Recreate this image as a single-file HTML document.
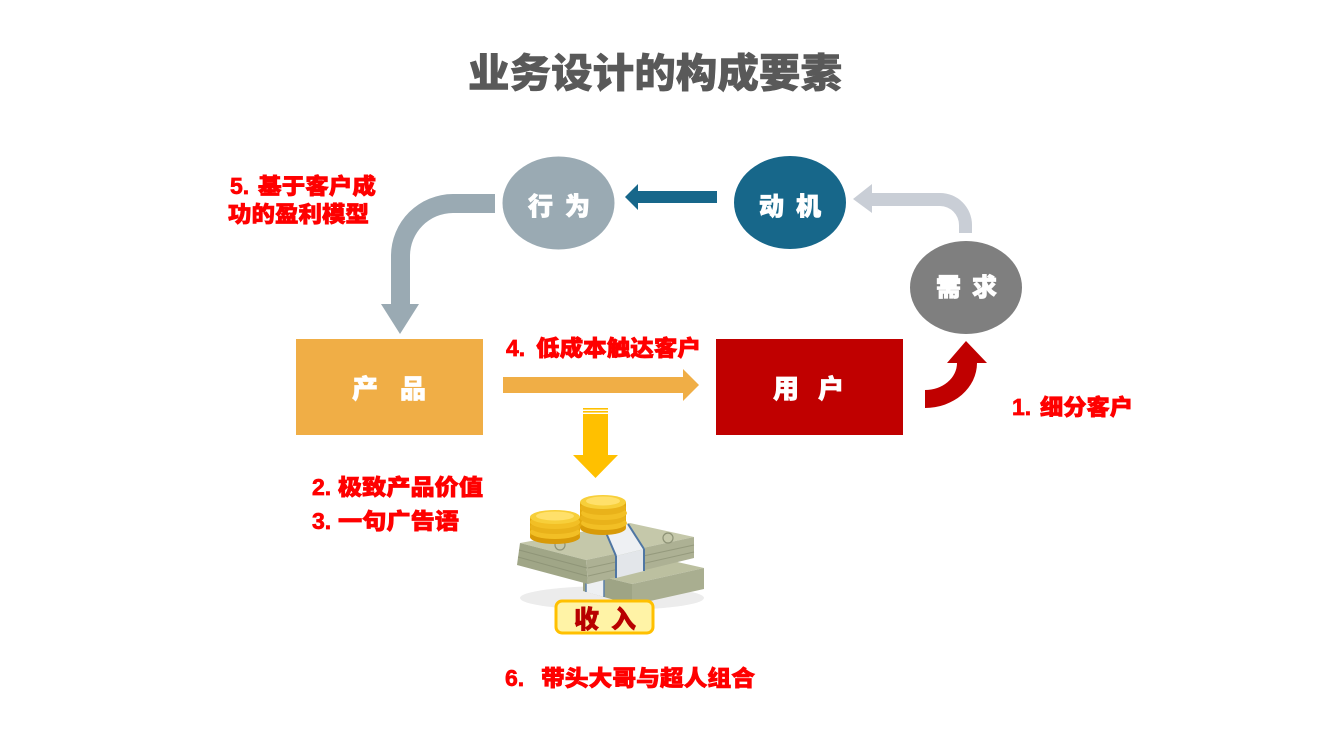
<!DOCTYPE html>
<html><head><meta charset="utf-8">
<style>
html,body{margin:0;padding:0;background:#fff;}
svg{display:block;}
.cj{font-family:"Liberation Sans","Noto Sans CJK SC",sans-serif;font-weight:900;}
.num{font-family:"Liberation Sans",sans-serif;font-weight:700;}
</style></head><body>
<svg width="1320" height="755" viewBox="0 0 1320 755" xmlns="http://www.w3.org/2000/svg">
<rect width="1320" height="755" fill="#fff"/>

<!-- Title -->
<text x="468" y="87" font-size="40" fill="#595959" stroke="#595959" stroke-width="0.6" class="cj" textLength="374" lengthAdjust="spacingAndGlyphs">业务设计的构成要素</text>

<!-- Big gray curved arrow 行为 -> 产品 -->
<path d="M495,194 L453,194 A62,62 0 0 0 391,256 L391,304 L381,304 L400,334 L419,304 L410,304 L410,256 A43,43 0 0 1 453,213 L495,213 Z" fill="#9aaab3"/>

<!-- Light gray arrow 需求 -> 动机 -->
<path d="M959,233 L959,225 A19,19 0 0 0 940,206 L872,206 L872,213 L853,199 L872,184 L872,193 L940,193 A32,32 0 0 1 972,225 L972,233 Z" fill="#c9ced6"/>

<!-- Dark blue arrow 动机 -> 行为 -->
<polygon points="717,191 638,191 638,184 625,197 638,210 638,203 717,203" fill="#17678a"/>

<!-- Ellipses -->
<ellipse cx="558.5" cy="203" rx="56" ry="46.5" fill="#9aaab3"/>
<ellipse cx="790" cy="202.5" rx="56" ry="46.5" fill="#17678a"/>
<ellipse cx="966" cy="287.5" rx="56" ry="46.5" fill="#7f7f7f"/>

<g fill="#fff" stroke="#fff" stroke-width="0.8">
<text x="528" y="215" font-size="25" class="cj">行</text>
<text x="565" y="215" font-size="25" class="cj">为</text>
<text x="759" y="215" font-size="25" class="cj">动</text>
<text x="796" y="215" font-size="25" class="cj">机</text>
<text x="936" y="296" font-size="25" class="cj">需</text>
<text x="972" y="296" font-size="25" class="cj">求</text>
</g>

<!-- Boxes -->
<rect x="296" y="339" width="187" height="96" fill="#f0ae46"/>
<rect x="716" y="339" width="187" height="96" fill="#c00000"/>
<g fill="#fff" stroke="#fff" stroke-width="0.7">
<text x="352" y="398" font-size="26" class="cj">产</text>
<text x="400" y="398" font-size="26" class="cj">品</text>
<text x="773" y="398" font-size="26" class="cj">用</text>
<text x="818" y="398" font-size="26" class="cj">户</text>
</g>

<!-- Orange arrow -->
<polygon points="503,377 683,377 683,369 699,385 683,401 683,393 503,393" fill="#f0ae46"/>

<!-- Red curved arrow -->
<path d="M925,408 A52,45 0 0 0 977,363 L987,363 L966,341 L947,363 L957,363 A32,27 0 0 1 925,390 Z" fill="#c00000"/>

<!-- Yellow down arrow -->
<rect x="583" y="408" width="25" height="1.6" fill="#ffc000"/>
<rect x="583" y="411" width="25" height="1.6" fill="#ffc000"/>
<rect x="583" y="414" width="25" height="42" fill="#ffc000"/>
<polygon points="573,455 618,455 595.5,478" fill="#ffc000"/>

<!-- Money illustration -->
<ellipse cx="612" cy="598" rx="92" ry="12" fill="#ececec"/>
<!-- lower stack -->
<polygon points="583,572 655,557 704,568 632,584" fill="#bcc0a0"/>
<polygon points="583,572 632,584 632,605 583,591" fill="#9ea485"/>
<polygon points="632,584 704,568 704,589 632,605" fill="#a9ae90"/>
<polygon points="586,573 604,569 604,597 586,592" fill="#eef0f2"/>
<line x1="586" y1="574" x2="586" y2="592" stroke="#5a7fa8" stroke-width="1.5"/>
<line x1="604" y1="570" x2="604" y2="597" stroke="#5a7fa8" stroke-width="1.5"/>
<!-- upper stack -->
<polygon points="520,543 630,523 694,537 586,560" fill="#c5c8aa"/>
<polygon points="520,543 586,560 588,584 517,565" fill="#a0a687"/>
<polygon points="586,560 694,537 694,558 588,584" fill="#adb194"/>
<line x1="519" y1="550" x2="587" y2="568" stroke="#8f9578" stroke-width="1"/>
<line x1="518" y1="557" x2="587" y2="576" stroke="#8f9578" stroke-width="1"/>
<line x1="588" y1="568" x2="694" y2="545" stroke="#959a7d" stroke-width="1"/>
<line x1="588" y1="576" x2="694" y2="552" stroke="#959a7d" stroke-width="1"/>
<!-- band -->
<polygon points="604,528 628,524 644,549 616,556" fill="#eef0f3"/>
<polygon points="616,556 644,549 644,571 616,578" fill="#e3e6ea"/>
<line x1="604" y1="528" x2="616" y2="556" stroke="#4f76a3" stroke-width="2"/>
<line x1="616" y1="556" x2="616" y2="578" stroke="#4f76a3" stroke-width="2"/>
<line x1="628" y1="524" x2="644" y2="549" stroke="#4f76a3" stroke-width="2"/>
<line x1="644" y1="549" x2="644" y2="571" stroke="#4f76a3" stroke-width="2"/>
<circle cx="560" cy="545" r="5" fill="none" stroke="#8d9276" stroke-width="1.2"/>
<circle cx="668" cy="538" r="5" fill="none" stroke="#8d9276" stroke-width="1.2"/>

<!-- coins left stack -->
<g>
<rect x="530" y="517" width="50" height="20" fill="#e3a90e"/>
<ellipse cx="555" cy="537" rx="25" ry="7" fill="#d89a08"/>
<ellipse cx="555" cy="532" rx="25" ry="7" fill="#f2bf25"/>
<ellipse cx="555" cy="527" rx="25" ry="7" fill="#e9b21a"/>
<ellipse cx="555" cy="522" rx="25" ry="7" fill="#f2bf25"/>
<ellipse cx="555" cy="517" rx="25" ry="7" fill="#f7cf3a"/>
<ellipse cx="555" cy="516" rx="19" ry="4.5" fill="#ffe06a"/>
</g>
<!-- coins right stack -->
<g>
<rect x="580" y="502" width="46" height="26" fill="#e3a90e"/>
<ellipse cx="603" cy="528" rx="23" ry="7" fill="#d89a08"/>
<ellipse cx="604" cy="523" rx="23" ry="7" fill="#f2bf25"/>
<ellipse cx="603" cy="518" rx="23" ry="7" fill="#e9b21a"/>
<ellipse cx="604" cy="513" rx="23" ry="7" fill="#f2bf25"/>
<ellipse cx="603" cy="508" rx="23" ry="7" fill="#e9b21a"/>
<ellipse cx="603" cy="502" rx="23" ry="7" fill="#f7cf3a"/>
<ellipse cx="603" cy="501" rx="17" ry="4.5" fill="#ffe06a"/>
</g>

<!-- 收入 label -->
<rect x="556" y="601" width="97" height="32" rx="6" ry="6" fill="#fff3a6" stroke="#ffc000" stroke-width="3"/>
<g fill="#b80000" stroke="#b80000" stroke-width="0.6">
<text x="574" y="628" font-size="25" class="cj">收</text>
<text x="611" y="628" font-size="25" class="cj">入</text>
</g>

<!-- Red labels -->
<g fill="#ff0000" stroke="#ff0000" stroke-width="0.7">
<text x="230" y="194" font-size="23" class="num">5.</text>
<text x="258" y="194" font-size="22" class="cj" textLength="118" lengthAdjust="spacingAndGlyphs">基于客户成</text>
<text x="228" y="222" font-size="22" class="cj" textLength="141" lengthAdjust="spacingAndGlyphs">功的盈利模型</text>

<text x="506" y="356" font-size="23" class="num">4.</text>
<text x="536" y="356" font-size="22" class="cj" textLength="165" lengthAdjust="spacingAndGlyphs">低成本触达客户</text>

<text x="1012" y="415" font-size="23" class="num">1.</text>
<text x="1040" y="415" font-size="22" class="cj" textLength="93" lengthAdjust="spacingAndGlyphs">细分客户</text>

<text x="312" y="495" font-size="23" class="num">2.</text>
<text x="338" y="495" font-size="22" class="cj" textLength="145" lengthAdjust="spacingAndGlyphs">极致产品价值</text>

<text x="312" y="529" font-size="23" class="num">3.</text>
<text x="338" y="529" font-size="22" class="cj" textLength="121" lengthAdjust="spacingAndGlyphs">一句广告语</text>

<text x="505" y="686" font-size="23" class="num">6.</text>
<text x="541" y="686" font-size="22" class="cj" textLength="214" lengthAdjust="spacingAndGlyphs">带头大哥与超人组合</text>
</g>
</svg>
</body></html>
